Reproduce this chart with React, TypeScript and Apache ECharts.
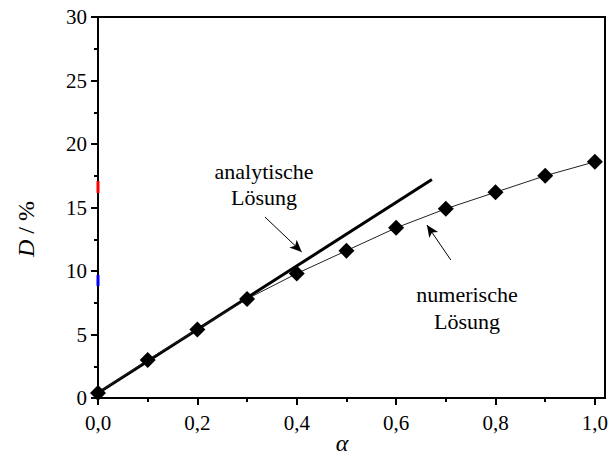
import React, { useEffect, useRef } from "react";
import * as echarts from "echarts";

// numerical solution
const alphaValues = [0, 0.1, 0.2, 0.3, 0.4, 0.5, 0.6, 0.7, 0.8, 0.9, 1.0];
const numericD = [0.4, 3.0, 5.4, 7.8, 9.8, 11.6, 13.4, 14.9, 16.2, 17.5, 18.6];
// analytical solution (straight line)
const analyticAlpha = [0, 0.672];
const analyticD = [0.4, 17.2];
// arrow annotations in data coordinates: [fromAlpha, fromD, toAlpha, toD]
const analyticArrow = [0.336, 14.25, 0.41, 11.5];
const numericArrow = [0.71, 10.87, 0.662, 13.62];

const FONT = "'Liberation Serif', 'DejaVu Serif', serif";

export default function App() {
  const ref = useRef<HTMLDivElement>(null);
  useEffect(() => {
    if (!ref.current) return;
    const chart = echarts.init(ref.current, undefined, { renderer: "svg" });
    const fmtX = (v: number) => v.toFixed(1).replace(".", ",");
    const axisCommon = {
      axisLine: { show: true, lineStyle: { color: "#000", width: 2 } },
      axisTick: { show: true, inside: false, length: 7, lineStyle: { color: "#000", width: 2 } },
      minorTick: { show: true, splitNumber: 2, length: 4, lineStyle: { color: "#000", width: 2 } },
      splitLine: { show: false },
      minorSplitLine: { show: false },
    };
    chart.setOption({
      animation: false,
      backgroundColor: "#fff",
      textStyle: { fontFamily: FONT },
      grid: { left: 98, right: 16, top: 17, bottom: 66, containLabel: false },
      xAxis: {
        type: "value",
        min: 0,
        max: 1,
        interval: 0.2,
        ...axisCommon,
        axisLabel: { formatter: fmtX, color: "#000", fontSize: 21, fontFamily: FONT, margin: 14 },
      },
      yAxis: {
        type: "value",
        min: 0,
        max: 30,
        interval: 5,
        ...axisCommon,
        axisLabel: { formatter: (v: number) => String(v), color: "#000", fontSize: 21, fontFamily: FONT, margin: 11 },
      },
      series: [
        {
          type: "line",
          name: "analytisch",
          data: analyticAlpha.map((a, i) => [a, analyticD[i]]),
          symbol: "none",
          lineStyle: { color: "#000", width: 3 },
          z: 3,
          markLine: {
            silent: true,
            symbol: ["none", "arrow"],
            symbolSize: [8, 12],
            label: { show: false },
            lineStyle: { color: "#000", width: 1, type: "solid" },
            data: [
              [
                { coord: [analyticArrow[0], analyticArrow[1]] },
                { coord: [analyticArrow[2], analyticArrow[3]] },
              ],
              [
                { coord: [numericArrow[0], numericArrow[1]] },
                { coord: [numericArrow[2], numericArrow[3]] },
              ],
            ],
          },
        },
        {
          type: "line",
          name: "numerisch",
          data: alphaValues.map((a, i) => [a, numericD[i]]),
          symbol: "diamond",
          symbolSize: 16,
          itemStyle: { color: "#000" },
          lineStyle: { color: "#222", width: 1 },
          z: 4,
        },
      ],
      graphic: [
        {
          type: "rect",
          silent: true,
          z: 50,
          shape: { x: 98, y: 17, width: 507, height: 381 },
          style: { fill: "none", stroke: "#000", lineWidth: 2 },
        },
        { type: "rect", silent: true, z: 60, shape: { x: 96.5, y: 181, width: 3, height: 12 }, style: { fill: "#ff0000" } },
        { type: "rect", silent: true, z: 60, shape: { x: 96.5, y: 275, width: 3, height: 11 }, style: { fill: "#0000ff" } },
        {
          type: "text",
          x: 264,
          y: 184,
          style: {
            text: "analytische\nLösung",
            font: "22px 'Liberation Serif', serif",
            lineHeight: 26,
            fill: "#000",
            textAlign: "center",
            textVerticalAlign: "middle",
          },
        },
        {
          type: "text",
          x: 467,
          y: 308,
          style: {
            text: "numerische\nLösung",
            font: "22px 'Liberation Serif', serif",
            lineHeight: 27,
            fill: "#000",
            textAlign: "center",
            textVerticalAlign: "middle",
          },
        },
        {
          type: "text",
          x: 342,
          y: 443,
          style: {
            text: "α",
            font: "italic 24px 'Liberation Serif', serif",
            fill: "#000",
            textAlign: "center",
            textVerticalAlign: "middle",
          },
        },
        {
          type: "text",
          x: 26,
          y: 229,
          rotation: Math.PI / 2,
          style: {
            text: "{i|D} / %",
            fontSize: 24,
            fontFamily: FONT,
            fill: "#000",
            textAlign: "center",
            textVerticalAlign: "middle",
            rich: { i: { fontStyle: "italic", fontSize: 24, fontFamily: FONT } },
          },
        },
      ],
    });
    return () => chart.dispose();
  }, []);
  return (
    <div
      ref={ref}
      style={{ position: "fixed", left: 0, top: 0, width: 611, height: 464, background: "#fff" }}
    />
  );
}
